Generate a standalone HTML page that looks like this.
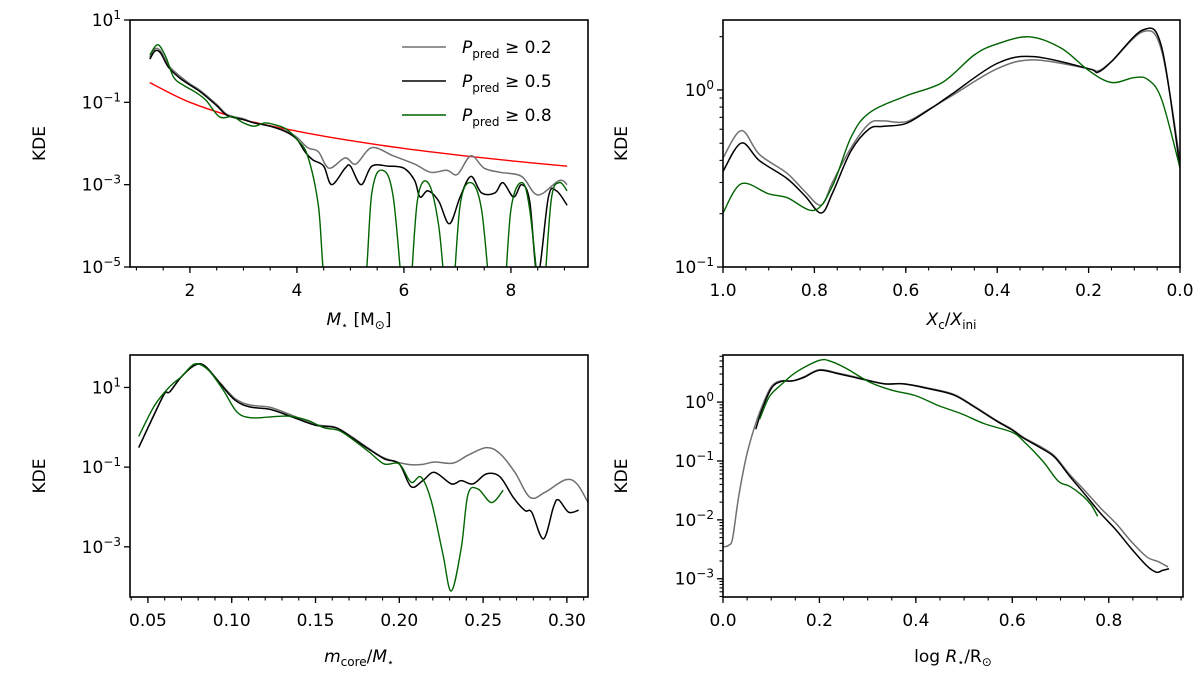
<!DOCTYPE html>
<html><head><meta charset="utf-8"><style>
html,body{margin:0;padding:0;background:#fff;}
svg{display:block;font-family:"DejaVu Sans","Liberation Sans",sans-serif;}
</style></head><body>
<svg id="fig" width="1200" height="681" viewBox="0 0 1200 681" xmlns="http://www.w3.org/2000/svg"></svg>
<script>
// ---- Panel 1: stellar mass (log10 KDE values) ----
const p1GrayX=[1.25,1.35,1.45,1.6,1.8,2.0,2.2,2.5,2.7,3.0,3.2,3.5,3.8,4.0,4.2,4.4,4.6,4.9,5.1,5.4,5.8,6.2,6.5,6.8,7.0,7.25,7.5,7.8,8.2,8.5,8.9,9.05];
const p1GrayY=[0.1,0.3,0.25,-0.1,-0.35,-0.55,-0.72,-1.05,-1.3,-1.4,-1.5,-1.58,-1.7,-1.85,-2.1,-2.2,-2.6,-2.35,-2.5,-2.1,-2.3,-2.5,-2.7,-2.65,-2.75,-2.3,-2.6,-2.7,-2.8,-3.25,-2.9,-3.0];
const p1BlackX=[1.25,1.35,1.45,1.6,1.8,2.0,2.2,2.5,2.7,3.0,3.2,3.5,3.8,4.0,4.15,4.3,4.5,4.65,4.9,5.0,5.2,5.4,5.7,6.0,6.2,6.3,6.45,6.65,6.85,7.05,7.25,7.45,7.7,7.85,8.05,8.2,8.35,8.5,8.7,8.85,9.05];
const p1BlackY=[0.05,0.25,0.2,-0.15,-0.4,-0.58,-0.75,-1.08,-1.32,-1.42,-1.5,-1.58,-1.72,-1.9,-2.2,-2.4,-2.55,-3.0,-2.6,-2.55,-3.0,-2.55,-2.55,-2.6,-2.9,-3.3,-3.15,-3.4,-3.95,-3.3,-2.8,-3.2,-3.2,-2.95,-3.3,-3.0,-3.4,-5.2,-3.3,-3.15,-3.5];
const p1GreenX=[1.25,1.4,1.55,1.7,1.9,2.1,2.3,2.55,2.8,3.0,3.2,3.4,3.6,3.8,4.0,4.2,4.4,4.6,5.2,5.4,5.6,5.8,6.0,6.1,6.25,6.45,6.65,6.8,6.9,7.05,7.25,7.45,7.65,7.85,8.0,8.2,8.35,8.55,8.6,8.75,8.9,9.05];
const p1GreenY=[0.15,0.4,0.1,-0.4,-0.6,-0.75,-0.95,-1.35,-1.35,-1.5,-1.58,-1.5,-1.55,-1.65,-1.9,-2.3,-3.5,-6,-6,-3.2,-2.65,-3.3,-6,-6,-3.4,-2.95,-4.0,-6,-6,-3.5,-2.95,-3.6,-6,-6,-3.6,-2.95,-3.6,-6,-6,-3.4,-2.95,-3.15];
const p1RedX=[1.25,2,3,4,5,6,7,8,9.05];
const p1RedY=[-0.52,-1.0,-1.42,-1.7,-1.93,-2.12,-2.28,-2.42,-2.55];
const p1XTicks=[2,4,6,8];
const p1YTicks=[1,-1,-3,-5];
// ---- Panel 2: Xc/Xini ----
const p2X=[1.0,0.96,0.92,0.86,0.82,0.785,0.76,0.72,0.68,0.65,0.6,0.55,0.5,0.4,0.32,0.2,0.18,0.15,0.08,0.04,0.0];
const p2GrayY=[-0.384,-0.23,-0.365,-0.47,-0.576,-0.65,-0.52,-0.327,-0.19,-0.175,-0.18,-0.11,-0.034,0.12,0.17,0.12,0.107,0.16,0.33,0.22,-0.4];
const p2BlackY=[-0.46,-0.30,-0.40,-0.5,-0.6,-0.695,-0.58,-0.345,-0.22,-0.206,-0.19,-0.113,-0.025,0.15,0.188,0.12,0.10,0.16,0.34,0.24,-0.44];
const p2GreenX=[1.0,0.96,0.9,0.86,0.8,0.76,0.72,0.68,0.6,0.52,0.45,0.4,0.33,0.26,0.2,0.15,0.1,0.07,0.04,0.0];
const p2GreenY=[-0.695,-0.53,-0.587,-0.608,-0.68,-0.54,-0.268,-0.13,-0.034,0.042,0.198,0.26,0.30,0.236,0.11,0.042,0.07,0.058,-0.055,-0.44];
const p2XTicks=[1.0,0.8,0.6,0.4,0.2,0.0];
const p2XLabels=["1.0","0.8","0.6","0.4","0.2","0.0"];
const p2YTicks=[0,-1];
// ---- Panel 3: core mass fraction ----
const p3BlackX=[0.0445,0.054,0.06,0.063,0.07,0.078,0.084,0.093,0.102,0.111,0.123,0.136,0.15,0.162,0.171,0.18,0.191,0.2,0.207,0.214,0.221,0.231,0.237,0.244,0.252,0.26,0.268,0.275,0.279,0.286,0.292,0.295,0.301,0.307];
const p3BlackY=[-0.51,0.345,0.85,0.89,1.27,1.56,1.54,1.1,0.68,0.51,0.45,0.26,0.05,-0.01,-0.24,-0.5,-0.79,-0.92,-1.49,-1.34,-1.13,-1.42,-1.34,-1.42,-1.17,-1.24,-1.76,-2.09,-2.13,-2.8,-2.0,-1.82,-2.13,-2.08];
const p3GrayX=[0.0445,0.054,0.06,0.063,0.07,0.078,0.084,0.093,0.102,0.111,0.123,0.136,0.15,0.162,0.171,0.18,0.191,0.205,0.214,0.221,0.232,0.241,0.252,0.26,0.269,0.278,0.287,0.299,0.306,0.313];
const p3GrayY=[-0.51,0.345,0.85,0.89,1.27,1.56,1.54,1.12,0.72,0.56,0.5,0.3,0.07,0.0,-0.22,-0.48,-0.77,-0.93,-0.93,-0.87,-0.9,-0.7,-0.51,-0.66,-1.13,-1.76,-1.63,-1.32,-1.42,-1.92];
const p3GreenX=[0.0445,0.054,0.063,0.07,0.078,0.086,0.095,0.103,0.111,0.123,0.134,0.145,0.155,0.164,0.173,0.182,0.191,0.2,0.207,0.213,0.219,0.226,0.231,0.237,0.241,0.247,0.255,0.262];
const p3GreenY=[-0.23,0.55,1.02,1.27,1.59,1.44,0.93,0.39,0.24,0.26,0.28,0.18,-0.01,-0.08,-0.33,-0.62,-0.92,-0.92,-1.38,-1.25,-1.84,-3.18,-4.11,-3.02,-1.68,-1.55,-1.89,-1.58];
const p3XTicks=[0.05,0.10,0.15,0.20,0.25,0.30];
const p3XLabels=["0.05","0.10","0.15","0.20","0.25","0.30"];
const p3YTicks=[1,-1,-3];
// ---- Panel 4: log radius ----
const p4GrayX=[0,0.012,0.02,0.032,0.048,0.064,0.08,0.1,0.12,0.144,0.168,0.2,0.24,0.288,0.335,0.375,0.431,0.479,0.519,0.567,0.599,0.623,0.655,0.687,0.719,0.751,0.783,0.815,0.847,0.879,0.903,0.923];
const p4GrayY=[-2.46,-2.43,-2.31,-1.63,-0.94,-0.46,-0.09,0.26,0.36,0.36,0.43,0.55,0.49,0.4,0.31,0.31,0.23,0.13,-0.06,-0.31,-0.46,-0.6,-0.74,-0.91,-1.23,-1.51,-1.8,-2.06,-2.37,-2.63,-2.71,-2.8];
const p4BlackX=[0.068,0.08,0.1,0.12,0.144,0.168,0.2,0.24,0.288,0.335,0.375,0.431,0.479,0.519,0.567,0.599,0.623,0.655,0.687,0.719,0.751,0.783,0.815,0.847,0.879,0.899,0.911,0.925];
const p4BlackY=[-0.46,-0.15,0.23,0.35,0.36,0.42,0.54,0.48,0.39,0.31,0.31,0.22,0.12,-0.07,-0.32,-0.47,-0.61,-0.76,-0.93,-1.26,-1.57,-1.89,-2.17,-2.49,-2.78,-2.89,-2.86,-2.83];
const p4GreenX=[0.076,0.096,0.12,0.152,0.2,0.224,0.256,0.304,0.351,0.399,0.447,0.495,0.543,0.599,0.623,0.663,0.695,0.719,0.743,0.763,0.777];
const p4GreenY=[-0.29,0.09,0.29,0.51,0.71,0.69,0.57,0.34,0.2,0.11,-0.06,-0.2,-0.37,-0.51,-0.66,-1.0,-1.34,-1.43,-1.57,-1.74,-1.94];
const p4XTicks=[0,0.2,0.4,0.6,0.8];
const p4XLabels=["0.0","0.2","0.4","0.6","0.8"];
const p4YTicks=[0,-1,-2,-3];

const NS="http://www.w3.org/2000/svg";
const svg=document.getElementById('fig');
function mk(tag,attrs,parent){const e=document.createElementNS(NS,tag);for(const k in attrs)e.setAttribute(k,attrs[k]);(parent||svg).appendChild(e);return e;}
function scale(d0,d1,r0,r1){return v=>r0+(v-d0)/(d1-d0)*(r1-r0);}
function smoothPath(pts){
  let d=`M${pts[0][0].toFixed(2)},${pts[0][1].toFixed(2)}`;
  for(let i=0;i<pts.length-1;i++){
    const p0=pts[Math.max(0,i-1)],p1=pts[i],p2=pts[i+1],p3=pts[Math.min(pts.length-1,i+2)];
    const c1=[p1[0]+(p2[0]-p0[0])/6,p1[1]+(p2[1]-p0[1])/6];
    const c2=[p2[0]-(p3[0]-p1[0])/6,p2[1]-(p3[1]-p1[1])/6];
    d+=` C${c1[0].toFixed(2)},${c1[1].toFixed(2)} ${c2[0].toFixed(2)},${c2[1].toFixed(2)} ${p2[0].toFixed(2)},${p2[1].toFixed(2)}`;
  }
  return d;
}
function panel(id,px0,px1,py0,py1,xd0,xd1,yTop,yBot){
  const g=mk('g',{});
  
  
  const cp=mk('clipPath',{id:'clip-'+id},g);
  mk('rect',{x:px0,y:py0,width:px1-px0,height:py1-py0},cp);
  return {g,id,px0,px1,py0,py1,x:scale(xd0,xd1,px0,px1),y:scale(yTop,yBot,py0,py1),xd0,xd1,yTop,yBot};
}
function series(P,xs,ys,color,name,w){
  const pts=xs.map((v,i)=>[P.x(v),P.y(ys[i])]);
  const p=mk('path',{d:smoothPath(pts),fill:'none',stroke:color,'stroke-width':w||1.5,'clip-path':`url(#clip-${P.id})`,'stroke-linejoin':'round'},P.g);
  
  
}
function frame(P){
  const r=mk('rect',{x:P.px0,y:P.py0,width:P.px1-P.px0,height:P.py1-P.py0,fill:'none',stroke:'#000','stroke-width':1.6},P.g);
  
  
}
function xTicks(P,majors,labels,minorStep){
  const lo=Math.min(P.xd0,P.xd1),hi=Math.max(P.xd0,P.xd1);
  const n0=Math.ceil(lo/minorStep-1e-6),n1=Math.floor(hi/minorStep+1e-6);
  for(let n=n0;n<=n1;n++){const v=n*minorStep;const X=P.x(v);
    mk('line',{x1:X,x2:X,y1:P.py1,y2:P.py1+3.5,stroke:'#000','stroke-width':1.1},P.g);}
  majors.forEach((v,i)=>{const X=P.x(v);
    mk('line',{x1:X,x2:X,y1:P.py1,y2:P.py1+6,stroke:'#000','stroke-width':1.3},P.g);
    const t=mk('text',{x:X,y:P.py1+29,'text-anchor':'middle','font-size':17,fill:'#000'},P.g);
    t.textContent=labels[i];
    
    
  });
}
function yTicks(P,majors,minor){
  if(minor){
    for(let d=Math.floor(P.yBot);d<=Math.ceil(P.yTop);d++){
      for(let m=2;m<=9;m++){const lv=d+Math.log10(m);
        if(lv<P.yBot||lv>P.yTop)continue;const Y=P.y(lv);
        mk('line',{x1:P.px0-3.5,x2:P.px0,y1:Y,y2:Y,stroke:'#000','stroke-width':1.1},P.g);}
    }
  }
  majors.forEach(v=>{const Y=P.y(v);
    mk('line',{x1:P.px0-6,x2:P.px0,y1:Y,y2:Y,stroke:'#000','stroke-width':1.3},P.g);
    const ex=(v<0?'\u2212'+(-v):''+v);
    const t=mk('text',{x:P.px0-9,y:Y+6,'text-anchor':'end','font-size':17,fill:'#000'},P.g);
    
    
    const a=mk('tspan',{},t);a.textContent='10';
    const b=mk('tspan',{dy:-7,'font-size':12},t);b.textContent=ex;
  });
}
function yLabel(P,x){
  const cy=(P.py0+P.py1)/2;
  const t=mk('text',{x:x,y:cy,'text-anchor':'middle','font-size':17,transform:`rotate(-90 ${x} ${cy})`},P.g);
  t.textContent='KDE';
  
  
}
function xLabelParts(P,y,parts){
  const t=mk('text',{x:(P.px0+P.px1)/2,y:y,'text-anchor':'middle','font-size':17},P.g);
  
  
  parts.forEach(p=>{const s=mk('tspan',p.a||{},t);s.textContent=p.t;});
}

// Panel 1
const P1=panel('panel-mass',130,588,20,267,0.88,9.44,1,-5);
series(P1,p1RedX,p1RedY,'#ff0000','red-reference-curve',1.4);
series(P1,p1GrayX,p1GrayY,'#707070','series-ppred-0.2');
series(P1,p1BlackX,p1BlackY,'#000000','series-ppred-0.5');
series(P1,p1GreenX,p1GreenY,'#006400','series-ppred-0.8',1.4);
frame(P1);xTicks(P1,p1XTicks,["2","4","6","8"],0.5);yTicks(P1,p1YTicks,false);yLabel(P1,45);
xLabelParts(P1,325,[{t:'M',a:{'font-style':'italic'}},{t:'\u22c6',a:{'font-size':11,dy:4}},{t:' [M',a:{dy:-4}},{t:'\u2299',a:{'font-size':12,dy:4}},{t:']',a:{dy:-4}}]);
// legend
const leg=mk('g',{},P1.g);


[['#707070','0.2',47],['#000000','0.5',81],['#006400','0.8',115]].forEach(([c,v,y])=>{
  const e=mk('g',{},leg);
  
  
  mk('line',{x1:402,x2:446,y1:y,y2:y,stroke:c,'stroke-width':1.6},e);
  const t=mk('text',{x:462,y:y+6,'font-size':17},e);
  const a=mk('tspan',{'font-style':'italic'},t);a.textContent='P';
  const b=mk('tspan',{'font-size':12,dy:5},t);b.textContent='pred';
  const c2=mk('tspan',{dy:-5},t);c2.textContent=' \u2265 '+v;
});

// Panel 2
const P2=panel('panel-xc',723,1180,20,267,1,0,0.395,-1);
series(P2,p2X,p2GrayY,'#707070','series-ppred-0.2');
series(P2,p2X,p2BlackY,'#000000','series-ppred-0.5');
series(P2,p2GreenX,p2GreenY,'#006400','series-ppred-0.8',1.4);
frame(P2);xTicks(P2,p2XTicks,p2XLabels,0.05);yTicks(P2,p2YTicks,true);yLabel(P2,627);
xLabelParts(P2,325,[{t:'X',a:{'font-style':'italic'}},{t:'c',a:{'font-size':12,dy:4}},{t:'/',a:{dy:-4}},{t:'X',a:{'font-style':'italic'}},{t:'ini',a:{'font-size':12,dy:4}}]);

// Panel 3
const P3=panel('panel-core',130,588,355,597,0.0393,0.3126,1.815,-4.26);
series(P3,p3GrayX,p3GrayY,'#707070','series-ppred-0.2');
series(P3,p3BlackX,p3BlackY,'#000000','series-ppred-0.5');
series(P3,p3GreenX,p3GreenY,'#006400','series-ppred-0.8',1.4);
frame(P3);xTicks(P3,p3XTicks,p3XLabels,0.01);yTicks(P3,p3YTicks,false);yLabel(P3,45);
xLabelParts(P3,662,[{t:'m',a:{'font-style':'italic'}},{t:'core',a:{'font-size':12,dy:4}},{t:'/',a:{dy:-4}},{t:'M',a:{'font-style':'italic'}},{t:'\u22c6',a:{'font-size':11,dy:4}}]);

// Panel 4
const P4=panel('panel-radius',723,1183,355,597,0,0.954,0.8,-3.31);
series(P4,p4GrayX,p4GrayY,'#707070','series-ppred-0.2');
series(P4,p4BlackX,p4BlackY,'#000000','series-ppred-0.5');
series(P4,p4GreenX,p4GreenY,'#006400','series-ppred-0.8',1.4);
frame(P4);xTicks(P4,p4XTicks,p4XLabels,0.05);yTicks(P4,p4YTicks,true);yLabel(P4,627);
xLabelParts(P4,662,[{t:'log '},{t:'R',a:{'font-style':'italic'}},{t:'\u22c6',a:{'font-size':11,dy:4}},{t:'/R',a:{dy:-4}},{t:'\u2299',a:{'font-size':12,dy:4}}]);
</script>
</body></html>
